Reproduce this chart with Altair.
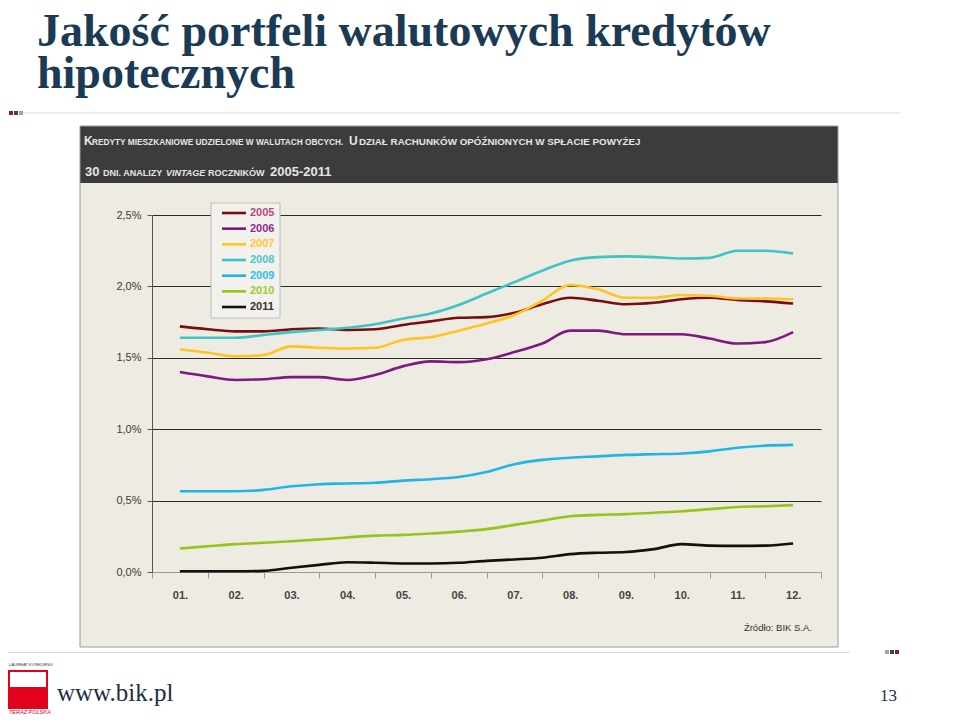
import altair as alt
import pandas as pd

# ---------------- data ----------------
months = [1, 1.5, 2, 2.5, 3, 3.5, 4, 4.5, 5, 5.5, 6, 6.5, 7, 7.5, 8, 8.5, 9, 9.5, 10, 10.5, 11, 11.5, 12]
years = ["2005", "2006", "2007", "2008", "2009", "2010", "2011"]
s2005 = [1.72, 1.70, 1.685, 1.685, 1.70, 1.705, 1.695, 1.70, 1.73, 1.755, 1.78, 1.785, 1.815, 1.875, 1.92, 1.90, 1.875, 1.885, 1.91, 1.92, 1.905, 1.895, 1.88]
s2006 = [1.40, 1.37, 1.345, 1.35, 1.365, 1.365, 1.345, 1.38, 1.44, 1.475, 1.47, 1.49, 1.54, 1.60, 1.69, 1.69, 1.665, 1.665, 1.665, 1.635, 1.60, 1.61, 1.68]
s2007 = [1.56, 1.535, 1.51, 1.52, 1.58, 1.57, 1.565, 1.57, 1.625, 1.645, 1.69, 1.74, 1.80, 1.90, 2.01, 1.98, 1.92, 1.92, 1.94, 1.935, 1.915, 1.915, 1.91]
s2008 = [1.64, 1.64, 1.64, 1.66, 1.68, 1.695, 1.71, 1.735, 1.775, 1.81, 1.87, 1.95, 2.03, 2.11, 2.18, 2.205, 2.21, 2.205, 2.195, 2.20, 2.25, 2.25, 2.23]
s2009 = [0.565, 0.565, 0.565, 0.575, 0.60, 0.615, 0.62, 0.625, 0.64, 0.65, 0.665, 0.70, 0.755, 0.785, 0.80, 0.81, 0.82, 0.825, 0.83, 0.845, 0.87, 0.885, 0.89]
s2010 = [0.165, 0.18, 0.195, 0.205, 0.215, 0.228, 0.242, 0.255, 0.26, 0.27, 0.283, 0.30, 0.33, 0.36, 0.39, 0.40, 0.405, 0.415, 0.425, 0.44, 0.455, 0.46, 0.468]
s2011 = [0.005, 0.005, 0.005, 0.008, 0.03, 0.05, 0.068, 0.065, 0.06, 0.06, 0.065, 0.078, 0.088, 0.10, 0.125, 0.135, 0.14, 0.16, 0.195, 0.185, 0.183, 0.185, 0.20]
series = [s2005, s2006, s2007, s2008, s2009, s2010, s2011]
y_ticks = [0, 0.5, 1.0, 1.5, 2.0, 2.5]
x_tick_edges = [0.5, 1.5, 2.5, 3.5, 4.5, 5.5, 6.5, 7.5, 8.5, 9.5, 10.5, 11.5, 12.5]

title_1 = "Jakość portfeli walutowych kredytów"
title_2 = "hipotecznych"
source = "Źródło: BIK S.A."

colors = ["#7a0c10", "#7d1a7f", "#ffc420", "#3ec4c6", "#1fb5e8", "#98c21c", "#111111"]
label_colors = ["#b34a78", "#8a2f8c", "#ffc830", "#4cc8c8", "#2cbcec", "#a2c832", "#333333"]

rows = []
for yr, vals in zip(years, series):
    for m, v in zip(months, vals):
        rows.append({"month": m, "value": v, "year": yr})
df = pd.DataFrame(rows)
leg_df = pd.DataFrame({"year": years})

one = pd.DataFrame({"k": [0]})

# plot area origin is at page (152,215); plot is 669 x 357
W, H = 669, 357


def rect(x, x2, y, y2, **kw):
    return alt.Chart(one).mark_rect(**kw).encode(
        x=alt.value(x), x2=alt.value(x2), y=alt.value(y), y2=alt.value(y2))


def txt(t, x, y, **kw):
    return alt.Chart(one).mark_text(align=kw.pop("align", "left"), baseline="alphabetic", **kw).encode(
        x=alt.value(x), y=alt.value(y), text=alt.value(t))


panel = "#eeebe2"
white = "#ffffff"

whites = [
    rect(-160, 820, -223, -89, color=white),
    rect(-160, 820, 432, 520, color=white),
    rect(-160, -72, -89, 432, color=white),
    rect(686, 820, -89, 432, color=white),
]

header = rect(-72, 686, -89, -32, color="#3c3c3c")
frame = rect(-72, 686, -89, 432, fill=None, stroke="#9a9a9a", strokeWidth=1)

hfont = "Liberation Sans, Arial, sans-serif"
hcol = "#e6e6e6"
header_texts = [
    txt("K", -68, -70, font=hfont, fontSize=12, fontWeight="bold", color=hcol),
    txt("REDYTY MIESZKANIOWE UDZIELONE W WALUTACH OBCYCH.", -60, -70, font=hfont, fontSize=8.3, fontWeight="bold", color=hcol),
    txt("U", 197, -70, font=hfont, fontSize=12, fontWeight="bold", color=hcol),
    txt("DZIAŁ RACHUNKÓW OPÓŹNIONYCH W SPŁACIE POWYŻEJ", 207, -70, font=hfont, fontSize=9.8, fontWeight="bold", color=hcol),
    txt("30", -67, -39, font=hfont, fontSize=13, fontWeight="bold", color=hcol),
    txt("DNI. ANALIZY", -49, -39, font=hfont, fontSize=9, fontWeight="bold", color=hcol),
    txt("VINTAGE", 14, -39, font=hfont, fontSize=9, fontWeight="bold", fontStyle="italic", color=hcol),
    txt("ROCZNIKÓW", 56, -39, font=hfont, fontSize=9, fontWeight="bold", color=hcol),
    txt("2005-2011", 118, -39, font=hfont, fontSize=13, fontWeight="bold", color=hcol),
]

src = txt(source, 660, 416, align="right", font="Liberation Sans, Arial, sans-serif", fontSize=9.5, color="#333333")

tfont = "Liberation Serif, DejaVu Serif, serif"
tcol = "#1b3a55"
titles = [
    txt(title_1, -115, -169, font=tfont, fontSize=46, fontWeight="bold", color=tcol),
    txt(title_2, -115, -127, font=tfont, fontSize=46, fontWeight="bold", color=tcol),
]

rules = [
    rect(-132, 748, -102.5, -101.5, color="#dcdcdc"),
    rect(-144, 698, 437, 438, color="#dcdcdc"),
    rect(-143, -139, -104, -100, color="#8b1a2b"),
    rect(-138, -134, -104, -100, color="#2e4a55"),
    rect(-133, -129, -104, -100, color="#9aa6aa"),
    rect(733, 737, 435, 439, color="#9aa6aa"),
    rect(738, 742, 435, 439, color="#2e4a55"),
    rect(743, 747, 435, 439, color="#8b1a2b"),
    # logo
    rect(-143, -105, 456, 493, fill="#ffffff", stroke="#e2001a", strokeWidth=2),
    rect(-143, -105, 472, 493, color="#e2001a"),
]
logo_txt = [
    txt("LAUREAT KONKURSU", -143, 451, font="Liberation Sans, Arial, sans-serif", fontSize=4.2, color="#333333"),
    txt("TERAZ POLSKA", -143, 498.5, font="Liberation Sans, Arial, sans-serif", fontSize=5.5, fontStyle="italic", color="#e2001a"),
]
footer = [
    txt("www.bik.pl", -95, 486, font=tfont, fontSize=25, color="#1b2f45"),
    txt("13", 728, 486, font=tfont, fontSize=17, color="#1b2f45"),
]

lines = alt.Chart(df).mark_line(strokeWidth=2.6, interpolate="monotone").encode(
    x=alt.X("month:Q",
            scale=alt.Scale(domain=[0.5, 12.5], nice=False, zero=False),
            axis=alt.Axis(values=x_tick_edges,
                          labelExpr="datum.value < 12 ? ((datum.value + 0.5) < 10 ? '0' : '') + format(datum.value + 0.5, 'd') + '.' : ''",
                          labelOffset=27.9, grid=False, tickSize=6, tickColor="#9a9a9a",
                          domainColor="#9a9a9a", labelPadding=11, labelFontSize=11,
                          labelFontWeight="bold", labelColor="#444444", labelFont="Liberation Sans, Arial, sans-serif",
                          labelOverlap=False, labelBound=False, labelFlush=False, title=None)),
    y=alt.Y("value:Q",
            scale=alt.Scale(domain=[0, 2.5], nice=False, zero=True),
            axis=alt.Axis(values=y_ticks,
                          labelExpr="replace(format(datum.value, '.1f'), '.', ',') + '%'",
                          grid=True,
                          gridColor={"condition": {"test": "datum.value === 0", "value": "#9a9a9a"}, "value": "#2b2b2b"},
                          gridWidth=1, domainColor="#555555", tickColor="#555555", tickSize=5,
                          labelPadding=6, labelFontSize=11, labelColor="#3a3a3a",
                          labelFont="Liberation Sans, Arial, sans-serif", title=None)),
    color=alt.Color("year:N", scale=alt.Scale(domain=years, range=colors), legend=None),
)

# hand-drawn legend (guide)
leg_box = rect(59, 128, -12, 103, fill="#f3f1ec", stroke="#bdbdbd", strokeWidth=1, opacity=1)
leg_y = alt.Y("year:N", scale=alt.Scale(type="point", domain=years, range=[-2, 92], padding=0), axis=None)
leg_lines = alt.Chart(leg_df).mark_rule(strokeWidth=2.6).encode(
    x=alt.value(70), x2=alt.value(94), y=leg_y,
    color=alt.Color("year:N", scale=alt.Scale(domain=years, range=colors), legend=None),
)
leg_text = alt.Chart(leg_df).mark_text(align="left", baseline="middle", fontSize=11, fontWeight="bold",
                                       font="Liberation Sans, Arial, sans-serif").encode(
    x=alt.value(98), y=leg_y, text="year:N",
    fill=alt.Fill("year:N", scale=alt.Scale(domain=years, range=label_colors), legend=None),
)
legend_layer = alt.layer(leg_box, leg_lines, leg_text)

chart = alt.layer(
    *whites, header, frame, *header_texts, src, *titles, *rules, *logo_txt, *footer, lines, legend_layer
).resolve_scale(y="independent").properties(
    width=W, height=H,
    autosize=alt.AutoSizeParams(type="none"),
    padding={"left": 144, "top": 207, "right": 127, "bottom": 143},
    background=panel,
).configure_view(stroke=None)

chart.save("out.html", embed_options={"renderer": "svg", "actions": False})
